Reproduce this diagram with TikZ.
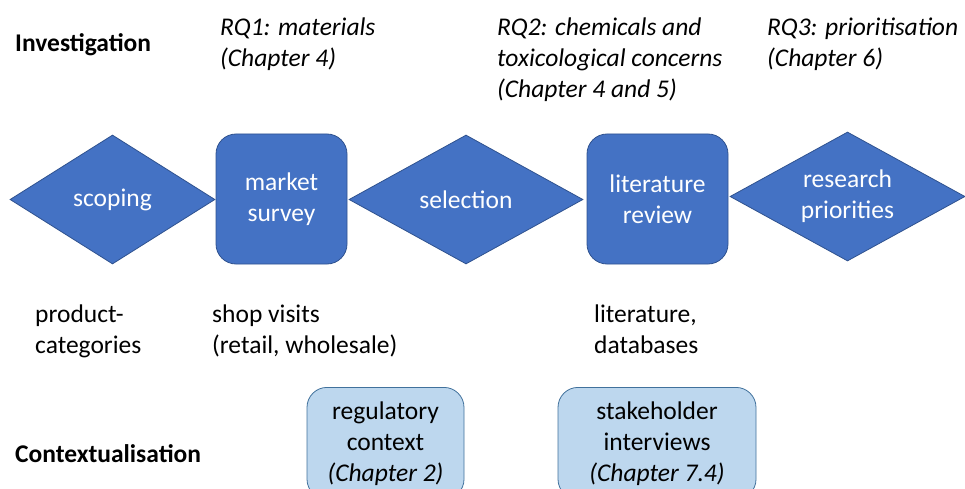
\documentclass[tikz,border=0pt]{standalone}
\usepackage{fontspec}
\setmainfont{Carlito}
\usetikzlibrary{shapes.geometric}

\definecolor{stepblue}{HTML}{4472C4}
\definecolor{stepedge}{HTML}{2F528F}
\definecolor{ctxblue}{HTML}{BDD7EE}
\definecolor{ctxedge}{HTML}{41719C}

\begin{document}
\begin{tikzpicture}[x=1pt,y=-1pt,
    every node/.style={font=\fontsize{25.5}{31}\selectfont, inner sep=0pt},
    phase/.style={diamond, fill=stepblue, draw=stepedge, line width=0.8pt,
      text=white, align=center, minimum height=129pt},
    task/.style={rectangle, rounded corners=20pt, fill=stepblue, draw=stepedge,
      line width=0.8pt, text=white, align=center, minimum height=130pt},
    ctx/.style={rectangle, rounded corners=20pt, fill=ctxblue, draw=ctxedge,
      line width=0.8pt, align=center, inner xsep=11pt, inner ysep=14pt, anchor=north},
    note/.style={align=left, anchor=base west},
    rq/.style={note, font=\fontsize{25.5}{31}\selectfont\itshape}]
      \clip (0,0) rectangle (965,489);
      % row labels
      \node[note, font=\fontsize{25.5}{31}\selectfont\bfseries] (inv) at (15,52) {Investigation};
      \node[note, font=\fontsize{25.5}{31}\selectfont\bfseries] (ctxt) at (15,462) {Contextualisation};
      % research questions (anchored on the last line)
      \node[rq] (rq1) at (220,67) {RQ1: materials\\(Chapter 4)};
      \node[rq] (rq2) at (497,98) {RQ2: chemicals and\\toxicological concerns\\(Chapter 4 and 5)};
      \node[rq] (rq3) at (767,67) {RQ3: prioritisation\\(Chapter 6)};
      % process steps
      \node[phase, aspect=1.59, minimum width=205pt] (scoping) at (112.5,199.5) {scoping};
      \node[task, minimum width=131pt] (survey) at (281.5,199) {market\\survey};
      \node[phase, aspect=1.8, minimum width=234pt] (selection) at (466,199.5) {selection};
      \node[task, minimum width=141pt] (review) at (657.5,199) {literature\\review};
      \node[phase, aspect=1.8, minimum width=235pt] (priorities) at (847.5,196.5) {research\\priorities};
      % sources
      \node[note] (cats) at (35,353) {product-\\categories};
      \node[note] (shops) at (212,353) {shop visits\\(retail, wholesale)};
      \node[note] (lit) at (594,353) {literature,\\databases};
      % context
      \node[ctx, minimum width=157pt] (regulatory) at (385.5,387) {regulatory\\context\\\textit{(Chapter 2)}};
      \node[ctx, minimum width=198pt] (stakeholders) at (657,387) {stakeholder\\interviews\\\textit{(Chapter 7.4)}};
    \end{tikzpicture}
\end{document}
